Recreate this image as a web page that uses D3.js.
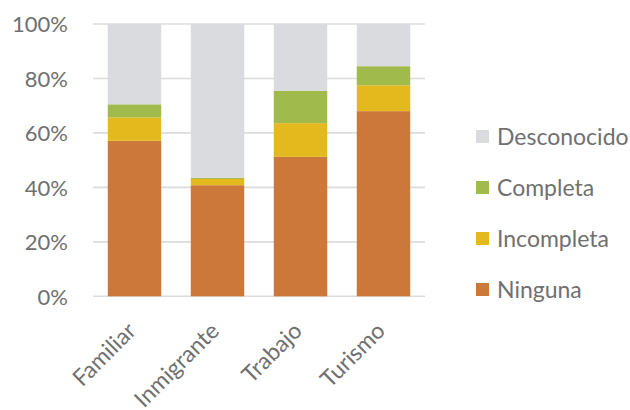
<!DOCTYPE html>
<html>
<head>
<meta charset="utf-8">
<script src="https://cdn.jsdelivr.net/npm/d3@7"></script>
<style>
  html, body { margin: 0; padding: 0; background: #fff; }
  svg { display: block; }
  text { font-family: Lato, "Open Sans", sans-serif; fill: #707070; }
</style>
</head>
<body>
<svg id="chart" width="630" height="410"></svg>
<script>
// Categories and stacked shares (percent of each group)
const categories = ["Familiar", "Inmigrante", "Trabajo", "Turismo"];
const ninguna     = [57.1, 40.8, 51.2, 68.0];
const incompleta  = [8.6, 2.3, 12.4, 9.5];
const completa    = [4.8, 0.4, 11.9, 7.0];
const desconocido = [29.5, 56.5, 24.5, 15.5];

const seriesNames  = ["Ninguna", "Incompleta", "Completa", "Desconocido"];
const seriesColors = ["#cc783a", "#e3b91e", "#a0ba4c", "#dadbdf"];
const yTicks = [0, 20, 40, 60, 80, 100];

const rows = categories.map((c, i) => ({
  cat: c,
  Ninguna: ninguna[i],
  Incompleta: incompleta[i],
  Completa: completa[i],
  Desconocido: desconocido[i]
}));

const svg = d3.select("#chart");
const plot = { left: 93, right: 425, top: 24, bottom: 296.3 };

const x = d3.scaleBand()
  .domain(categories)
  .range([plot.left, plot.right])
  .paddingInner(0.356)
  .paddingOuter(0.178);

const y = d3.scaleLinear().domain([0, 100]).range([plot.bottom, plot.top]);

// Gridlines
svg.append("g")
  .selectAll("line")
  .data(yTicks)
  .join("line")
  .attr("x1", plot.left)
  .attr("x2", plot.right)
  .attr("y1", d => y(d))
  .attr("y2", d => y(d))
  .attr("stroke", "#dcdcdc")
  .attr("stroke-width", 1.6);

// Y axis labels
const yAxis = d3.axisLeft(y).tickValues(yTicks).tickFormat(d => d + "%").tickSize(0).tickPadding(0);
const yg = svg.append("g").attr("transform", "translate(68,0)").call(yAxis);
yg.select(".domain").remove();
yg.selectAll("text")
  .attr("font-size", 22)
  .attr("font-family", "Lato, 'Open Sans', sans-serif")
  .attr("fill", "#707070")
  .attr("dy", "0.35em");

// Stacked bars
const stack = d3.stack().keys(seriesNames);
const layers = stack(rows);

svg.append("g")
  .selectAll("g")
  .data(layers)
  .join("g")
  .attr("fill", (d, i) => seriesColors[i])
  .selectAll("rect")
  .data(d => d)
  .join("rect")
  .attr("x", d => x(d.data.cat))
  .attr("width", x.bandwidth())
  .attr("y", d => y(d[1]))
  .attr("height", d => y(d[0]) - y(d[1]));

// X axis labels, rotated
const xAxis = d3.axisBottom(x).tickSize(0).tickPadding(0);
const xg = svg.append("g").attr("transform", `translate(0,${plot.bottom})`).call(xAxis);
xg.select(".domain").remove();
xg.selectAll("text")
  .attr("font-size", 23)
  .attr("font-family", "Lato, 'Open Sans', sans-serif")
  .attr("fill", "#707070")
  .attr("text-anchor", "end")
  .attr("dy", null)
  .attr("y", null)
  .attr("transform", "translate(3,36) rotate(-45)");

// Legend (top to bottom: Desconocido ... Ninguna)
const legendOrder = seriesNames.slice().reverse();
const legendColors = seriesColors.slice().reverse();
const lg = svg.append("g").attr("transform", "translate(476,137)");
const item = lg.selectAll("g")
  .data(legendOrder)
  .join("g")
  .attr("transform", (d, i) => `translate(0,${i * 51})`);
item.append("rect")
  .attr("x", 0).attr("y", -7)
  .attr("width", 13).attr("height", 13)
  .attr("fill", (d, i) => legendColors[i]);
item.append("text")
  .attr("x", 21).attr("y", 0)
  .attr("dy", "0.35em")
  .attr("font-size", 23)
  .text(d => d);
</script>
</body>
</html>
